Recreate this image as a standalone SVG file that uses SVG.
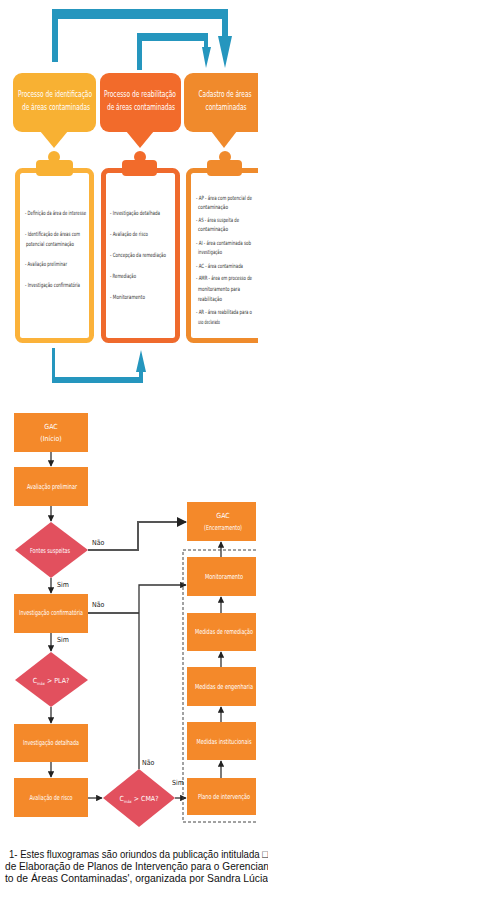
<svg xmlns="http://www.w3.org/2000/svg" width="482" height="899" viewBox="0 0 482 899">
<defs>
<style>
.tab{font-family:"Liberation Sans Narrow","DejaVu Sans Condensed","Liberation Sans",sans-serif;font-size:8px;fill:#fff;text-anchor:middle}
.item{font-family:"Liberation Sans Narrow","DejaVu Sans Condensed","Liberation Sans",sans-serif;font-size:5.8px;fill:#333}
.box{fill:#f4892a}
.dia{fill:#e2505e}
.bt{font-family:"Liberation Sans Narrow","DejaVu Sans Condensed","Liberation Sans",sans-serif;font-size:7px;fill:#fff;text-anchor:middle}
.lbl{font-family:"Liberation Sans Narrow","DejaVu Sans Condensed","Liberation Sans",sans-serif;font-size:7px;fill:#222}
.ln{fill:none;stroke:#333;stroke-width:1.3}
.ln2{fill:none;stroke:#555;stroke-width:2}
.blue{fill:#2596be}
.cap{font-family:"Liberation Sans Narrow","Liberation Sans",sans-serif;font-size:11px;fill:#111}
</style>
<marker id="ah" viewBox="0 0 10 10" refX="9" refY="5" markerWidth="5" markerHeight="5" orient="auto-start-reverse">
<path d="M0,0 L10,5 L0,10 z" fill="#222"/>
</marker>
<clipPath id="capclip"><rect x="0" y="840" width="268" height="59"/></clipPath>
<clipPath id="topclip"><rect x="0" y="0" width="258" height="400"/></clipPath>
</defs>
<rect width="482" height="899" fill="#fff"/>

<!-- Top diagram -->
<g id="blue-arrows">
<path class="blue" d="M52,62 L52,9 L228,9 L228,36 L232,36 L225,68 L218,36 L222,36 L222,19 L58,19 L58,62 z"/>
<path class="blue" d="M137,70 L137,33 L208,33 L208,47 L211,47 L206,68 L202,47 L204,47 L204,41 L142,41 L142,70 z"/>
<path class="blue" d="M52,348 L55,348 L55,377 L139,377 L139,372 L136,372 L141,350 L146,372 L143,372 L143,383 L52,383 z"/>
</g>

<g clip-path="url(#topclip)">
<g id="tab1">
<rect x="13" y="73" width="83" height="59" rx="9" fill="#f8b133"/>
<path d="M40,131 L68,131 L54,148 z" fill="#f8b133"/>
<text class="tab" x="55" y="97" textLength="74" lengthAdjust="spacingAndGlyphs">Processo de identificação</text>
<text class="tab" x="56" y="110" textLength="68" lengthAdjust="spacingAndGlyphs">de áreas contaminadas</text>
</g>
<g id="tab2">
<rect x="100" y="73" width="81" height="59" rx="9" fill="#f26b2b"/>
<path d="M126,131 L154,131 L140,148 z" fill="#f26b2b"/>
<text class="tab" x="140" y="97" textLength="72" lengthAdjust="spacingAndGlyphs">Processo de reabilitação</text>
<text class="tab" x="141" y="110" textLength="68" lengthAdjust="spacingAndGlyphs">de áreas contaminadas</text>
</g>
<g id="tab3">
<rect x="184" y="73" width="84" height="59" rx="9" fill="#f08a2c"/>
<path d="M211,131 L237,131 L224,148 z" fill="#f08a2c"/>
<text class="tab" x="225" y="97" textLength="53" lengthAdjust="spacingAndGlyphs">Cadastro de áreas</text>
<text class="tab" x="226" y="110" textLength="41" lengthAdjust="spacingAndGlyphs">contaminadas</text>
</g>

<g id="board1">
<rect x="17.5" y="170.5" width="74" height="170" rx="5" fill="#fff" stroke="#fbb23a" stroke-width="5"/>
<circle cx="54" cy="157" r="6" fill="#f8b133"/>
<rect x="36" y="160" width="37" height="16" rx="4" fill="#f8b133"/>
<text class="item" x="25" y="215" textLength="61" lengthAdjust="spacingAndGlyphs">- Definição da área de interesse</text>
<text class="item" x="25" y="236" textLength="55" lengthAdjust="spacingAndGlyphs">- Identificação de áreas com</text>
<text class="item" x="26" y="246" textLength="48" lengthAdjust="spacingAndGlyphs">potencial contaminação</text>
<text class="item" x="25" y="266" textLength="42" lengthAdjust="spacingAndGlyphs">- Avaliação preliminar</text>
<text class="item" x="25" y="287" textLength="55" lengthAdjust="spacingAndGlyphs">- Investigação confirmatória</text>
</g>
<g id="board2">
<rect x="103.5" y="170.5" width="74" height="170" rx="5" fill="#fff" stroke="#ef6a2d" stroke-width="5"/>
<circle cx="140" cy="157" r="6" fill="#f26b2b"/>
<rect x="122" y="160" width="35" height="16" rx="4" fill="#f26b2b"/>
<text class="item" x="110" y="215" textLength="50" lengthAdjust="spacingAndGlyphs">- Investigação detalhada</text>
<text class="item" x="110" y="236" textLength="38" lengthAdjust="spacingAndGlyphs">- Avaliação de risco</text>
<text class="item" x="110" y="257" textLength="56" lengthAdjust="spacingAndGlyphs">- Concepção da remediação</text>
<text class="item" x="110" y="278" textLength="26" lengthAdjust="spacingAndGlyphs">- Remediação</text>
<text class="item" x="110" y="299" textLength="35" lengthAdjust="spacingAndGlyphs">- Monitoramento</text>
</g>
<g id="board3">
<rect x="188.5" y="170.5" width="74" height="170" rx="5" fill="#fff" stroke="#ef8b2c" stroke-width="5"/>
<circle cx="225" cy="157" r="6" fill="#f08a2c"/>
<rect x="207" y="160" width="35" height="16" rx="4" fill="#f08a2c"/>
<text class="item" x="196" y="200" textLength="56" lengthAdjust="spacingAndGlyphs">- AP - área com potencial de</text>
<text class="item" x="198" y="209" textLength="30" lengthAdjust="spacingAndGlyphs">contaminação</text>
<text class="item" x="196" y="222" textLength="43" lengthAdjust="spacingAndGlyphs">- AS - área suspeita de</text>
<text class="item" x="198" y="231" textLength="30" lengthAdjust="spacingAndGlyphs">contaminação</text>
<text class="item" x="196" y="245" textLength="55" lengthAdjust="spacingAndGlyphs">- AI - área contaminada sob</text>
<text class="item" x="198" y="254" textLength="24" lengthAdjust="spacingAndGlyphs">investigação</text>
<text class="item" x="196" y="268" textLength="47" lengthAdjust="spacingAndGlyphs">- AC - área contaminada</text>
<text class="item" x="196" y="280" textLength="56" lengthAdjust="spacingAndGlyphs">- AMR - área em processo de</text>
<text class="item" x="198" y="291" textLength="42" lengthAdjust="spacingAndGlyphs">monitoramento para</text>
<text class="item" x="198" y="301" textLength="24" lengthAdjust="spacingAndGlyphs">reabilitação</text>
<text class="item" x="196" y="314" textLength="56" lengthAdjust="spacingAndGlyphs">- AR - área reabilitada para o</text>
<text class="item" x="198" y="324" textLength="22" lengthAdjust="spacingAndGlyphs">uso declarado</text>
</g>
</g>

<!-- Bottom flowchart -->
<g id="connectors">
<line class="ln" x1="51" y1="452" x2="51" y2="466" marker-end="url(#ah)"/>
<line class="ln" x1="51" y1="506" x2="51" y2="521" marker-end="url(#ah)"/>
<line class="ln" x1="51" y1="578" x2="51" y2="593" marker-end="url(#ah)"/>
<line class="ln" x1="51" y1="633" x2="51" y2="651" marker-end="url(#ah)"/>
<line class="ln" x1="51" y1="707" x2="51" y2="723" marker-end="url(#ah)"/>
<line class="ln" x1="51" y1="762" x2="51" y2="777" marker-end="url(#ah)"/>
<line class="ln" x1="88" y1="798" x2="102" y2="798" marker-end="url(#ah)"/>
<line class="ln" x1="175" y1="798" x2="186" y2="798" marker-end="url(#ah)"/>
<polyline class="ln2" points="88,550 138,550 138,522 186,522" marker-end="url(#ah)"/>
<line class="ln2" x1="88" y1="613" x2="139" y2="613"/>
<polyline class="ln" points="139,769 139,585 186,585" marker-end="url(#ah)"/>
<line class="ln" x1="221" y1="778" x2="221" y2="761" marker-end="url(#ah)"/>
<line class="ln" x1="221" y1="722" x2="221" y2="707" marker-end="url(#ah)"/>
<line class="ln" x1="221" y1="667" x2="221" y2="652" marker-end="url(#ah)"/>
<line class="ln" x1="221" y1="613" x2="221" y2="597" marker-end="url(#ah)"/>
<line class="ln" x1="221" y1="557" x2="221" y2="542" marker-end="url(#ah)"/>
<path d="M256,550 L183,550 L183,822 L256,822" fill="none" stroke="#444" stroke-width="1" stroke-dasharray="3,2"/>
<text class="lbl" x="92" y="545">Não</text>
<text class="lbl" x="57" y="587">Sim</text>
<text class="lbl" x="92" y="607">Não</text>
<text class="lbl" x="57" y="642">Sim</text>
<text class="lbl" x="142" y="765">Não</text>
<text class="lbl" x="172" y="785">Sim</text>
</g>

<g id="gac-inicio">
<rect class="box" x="14" y="413" width="74" height="39"/>
<text class="bt" x="51" y="429">GAC</text>
<text class="bt" x="51" y="441">(Início)</text>
</g>
<g id="avaliacao-preliminar">
<rect class="box" x="14" y="467" width="74" height="39"/>
<text class="bt" x="52" y="489" textLength="50" lengthAdjust="spacingAndGlyphs">Avaliação preliminar</text>
</g>
<g id="fontes-suspeitas">
<path class="dia" d="M51,522 L88,550 L51,578 L15,550 z"/>
<text class="bt" x="50" y="553" textLength="40" lengthAdjust="spacingAndGlyphs">Fontes suspeitas</text>
</g>
<g id="investigacao-confirmatoria">
<rect class="box" x="14" y="594" width="74" height="39"/>
<text class="bt" x="51" y="615" textLength="64" lengthAdjust="spacingAndGlyphs">Investigação confirmatória</text>
</g>
<g id="cmax-pla">
<path class="dia" d="M51,652 L88,680 L51,707 L15,680 z"/>
<text class="bt" x="51" y="683">C<tspan font-size="4" dy="2">máx</tspan><tspan dy="-2"> &gt; PLA?</tspan></text>
</g>
<g id="investigacao-detalhada">
<rect class="box" x="14" y="724" width="74" height="38"/>
<text class="bt" x="51" y="745" textLength="56" lengthAdjust="spacingAndGlyphs">Investigação detalhada</text>
</g>
<g id="avaliacao-risco">
<rect class="box" x="14" y="778" width="74" height="39"/>
<text class="bt" x="51" y="800" textLength="43" lengthAdjust="spacingAndGlyphs">Avaliação de risco</text>
</g>
<g id="cmax-cma">
<path class="dia" d="M139,769 L175,798 L139,827 L103,798 z"/>
<text class="bt" x="139" y="801">C<tspan font-size="4" dy="2">máx</tspan><tspan dy="-2"> &gt; CMA?</tspan></text>
</g>

<g id="gac-encerramento">
<rect class="box" x="187" y="502" width="69" height="39"/>
<text class="bt" x="223" y="518">GAC</text>
<text class="bt" x="223" y="530" textLength="38" lengthAdjust="spacingAndGlyphs">(Encerramento)</text>
</g>
<g id="monitoramento">
<rect class="box" x="187" y="557" width="69" height="39"/>
<text class="bt" x="224" y="579" textLength="38" lengthAdjust="spacingAndGlyphs">Monitoramento</text>
</g>
<g id="medidas-remediacao">
<rect class="box" x="187" y="613" width="69" height="38"/>
<text class="bt" x="224" y="634" textLength="58" lengthAdjust="spacingAndGlyphs">Medidas de remediação</text>
</g>
<g id="medidas-engenharia">
<rect class="box" x="187" y="667" width="69" height="39"/>
<text class="bt" x="224" y="689" textLength="58" lengthAdjust="spacingAndGlyphs">Medidas de engenharia</text>
</g>
<g id="medidas-institucionais">
<rect class="box" x="187" y="722" width="69" height="38"/>
<text class="bt" x="224" y="744" textLength="55" lengthAdjust="spacingAndGlyphs">Medidas institucionais</text>
</g>
<g id="plano-intervencao">
<rect class="box" x="187" y="778" width="69" height="37"/>
<text class="bt" x="224" y="799" textLength="52" lengthAdjust="spacingAndGlyphs">Plano de intervenção</text>
</g>

<g id="caption" clip-path="url(#capclip)">
<text class="cap" x="9" y="858" textLength="266" lengthAdjust="spacingAndGlyphs">1- Estes fluxogramas são oriundos da publicação intitulada □C</text>
<text class="cap" x="5" y="870" textLength="264" lengthAdjust="spacingAndGlyphs">de Elaboração de Planos de Intervenção para o Gerencian</text>
<text class="cap" x="5" y="882" textLength="263" lengthAdjust="spacingAndGlyphs">to de Áreas Contaminadas', organizada por Sandra Lúcia</text>
</g>
</svg>
